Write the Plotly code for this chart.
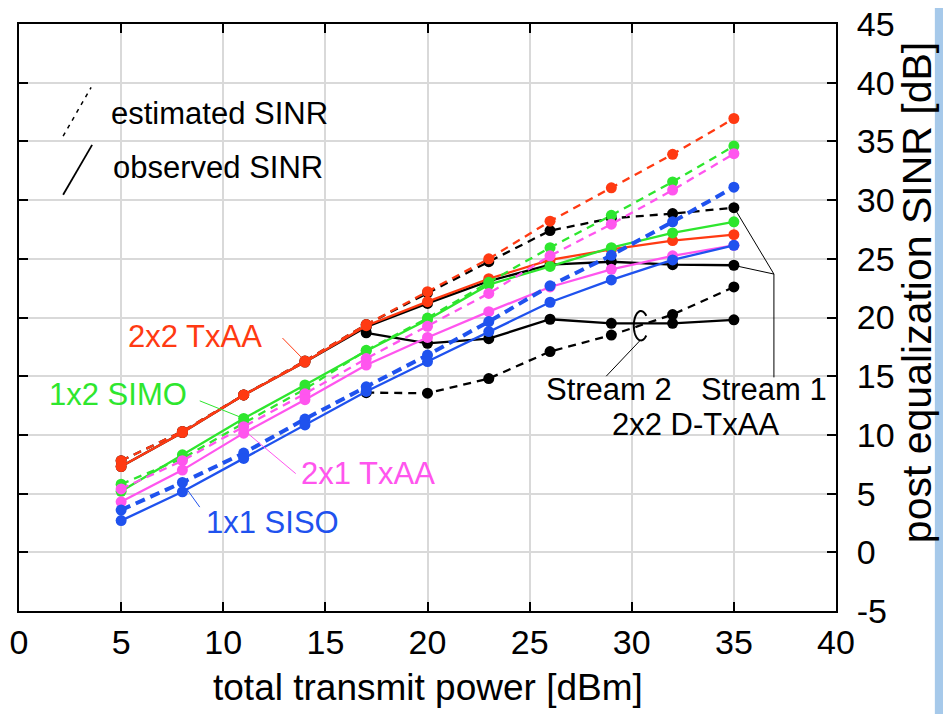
import numpy as np
import plotly.graph_objects as go

# ---------------- data ----------------
power = [5, 8, 11, 14, 17, 20, 23, 26, 29, 32, 35]
power_dtxaa = [17, 20, 23, 26, 29, 32, 35]

txaa22_est = [7.8, 10.3, 13.4, 16.3, 19.4, 22.2, 25.0, 28.2, 31.05, 33.9, 36.95]
txaa22_obs = [7.3, 10.2, 13.4, 16.2, 19.3, 21.35, 23.3, 24.9, 25.8, 26.55, 27.05]
simo12_est = [5.8, 8.0, 11.0, 13.9, 17.2, 19.95, 23.0, 25.95, 28.7, 31.55, 34.6]
simo12_obs = [5.2, 8.3, 11.4, 14.25, 17.15, 19.8, 22.8, 24.35, 25.95, 27.2, 28.15]
txaa21_est = [5.4, 7.8, 10.7, 13.5, 16.5, 19.25, 22.05, 25.25, 27.95, 30.85, 33.95]
txaa21_obs = [4.3, 7.0, 10.15, 13.0, 15.95, 18.3, 20.5, 22.6, 24.1, 25.25, 26.15]
siso11_est = [3.6, 5.95, 8.45, 11.35, 14.1, 16.8, 19.65, 22.7, 25.3, 28.15, 31.1]
siso11_obs = [2.7, 5.15, 8.0, 10.85, 13.7, 16.25, 18.8, 21.3, 23.2, 24.9, 26.15]

# 2x2 D-TxAA
s1_est = [7.8, 10.3, 13.4, 16.3, 19.4, 22.1, 24.75, 27.4, 28.45, 28.85, 29.35]
s1_obs = [7.3, 10.2, 13.4, 16.2, 19.2, 21.2, 23.1, 24.5, 24.75, 24.5, 24.45]
s2_est = [13.6, 13.55, 14.8, 17.1, 18.5, 20.25, 22.6]
s2_obs = [18.7, 17.8, 18.2, 19.85, 19.5, 19.5, 19.8]

x_ticks = [0, 5, 10, 15, 20, 25, 30, 35, 40]
y_ticks = [-5, 0, 5, 10, 15, 20, 25, 30, 35, 40, 45]

RED = "#ff3a12"
GREEN = "#2ee62e"
MAGENTA = "#ff55ee"
BLUE = "#1f52ee"
BLACK = "#000000"
FONT = "Liberation Sans"

fig = go.Figure()


def add(x, y, color, dashed, width=2.3, dash="8px,6px"):
    fig.add_trace(go.Scatter(
        x=x, y=y, mode="lines+markers",
        line=dict(color=color, width=width, dash=dash if dashed else "solid"),
        marker=dict(color=color, size=11),
        showlegend=False, hoverinfo="skip"))


# black D-TxAA first (under red)
add(power, s1_est, BLACK, True)
add(power, s1_obs, BLACK, False)
add(power_dtxaa, s2_est, BLACK, True)
add(power_dtxaa, s2_obs, BLACK, False)
add(power, txaa22_est, RED, True)
add(power, txaa22_obs, RED, False)
add(power, simo12_est, GREEN, True)
add(power, simo12_obs, GREEN, False)
add(power, txaa21_est, MAGENTA, True)
add(power, txaa21_obs, MAGENTA, False)
add(power, siso11_est, BLUE, True, width=4, dash="10px,6px")
add(power, siso11_obs, BLUE, False)

# ---------------- annotations ----------------
def txt(x, y, s, color, size=31):
    fig.add_annotation(x=x, y=y, xref="x", yref="y", text=s, showarrow=False,
                       xanchor="left", yanchor="middle",
                       font=dict(family=FONT, size=size, color=color))

txt(4.4, 37.4, "estimated SINR", BLACK)
txt(4.5, 32.8, "observed SINR", BLACK)
txt(5.25, 18.35, "2x2 TxAA", RED)
txt(1.35, 13.4, "1x2 SIMO", GREEN)
txt(13.7, 6.7, "2x1 TxAA", MAGENTA)
txt(9.05, 2.5, "1x1 SISO", BLUE)
txt(25.7, 13.9, "Stream 2", BLACK)
txt(33.3, 13.9, "Stream 1", BLACK)
txt(28.95, 10.85, "2x2 D-TxAA", BLACK)

shapes = []

def seg(x0, y0, x1, y1, color, width=1, dash="solid"):
    shapes.append(dict(type="line", xref="x", yref="y", x0=x0, y0=y0, x1=x1, y1=y1,
                       line=dict(color=color, width=width, dash=dash)))

# legend glyphs
seg(2.16, 35.45, 3.53, 39.6, BLACK, 1.5, "4px,5px")
seg(2.16, 30.45, 3.58, 34.7, BLACK, 1.8)
# leader lines
seg(12.9, 18.25, 14.0, 16.3, RED, 1)
seg(8.85, 12.9, 11.0, 11.4, GREEN, 1)
seg(11.15, 10.2, 13.55, 6.7, MAGENTA, 1)
seg(8.25, 5.3, 8.85, 3.85, BLUE, 1)
seg(35.1, 29.1, 36.96, 23.7, BLACK, 1)
seg(35.1, 24.4, 36.96, 23.7, BLACK, 1)
seg(36.96, 23.7, 36.96, 14.9, BLACK, 1)
seg(30.44, 18.1, 28.75, 15.0, BLACK, 1)

# "C" shaped ellipse around stream 2 crossing
cx, cy, rx, ry = 30.45, 19.3, 0.35, 1.25
ang = np.linspace(np.deg2rad(42), np.deg2rad(318), 48)
pts = [(cx + rx * np.cos(a), cy + ry * np.sin(a)) for a in ang]
path = "M " + " L ".join(f"{px:.4f},{py:.4f}" for px, py in pts)
shapes.append(dict(type="path", xref="x", yref="y", path=path,
                   line=dict(color=BLACK, width=2)))

# light blue strip at right edge (slide background)
shapes.append(dict(type="rect", xref="paper", yref="paper", x0=1.121, x1=1.25,
                   y0=-0.3, y1=1.2, line=dict(width=0), fillcolor="#a6c9ea", layer="below"))

fig.update_layout(shapes=shapes)

# axis titles as annotations
fig.add_annotation(x=0.5, y=-0.131, xref="paper", yref="paper", text="total transmit power [dBm]",
                   showarrow=False, xanchor="center", yanchor="middle",
                   font=dict(family=FONT, size=37, color=BLACK))
fig.add_annotation(x=1.099, y=0.543, xref="paper", yref="paper", text="post equalization SINR [dB]",
                   showarrow=False, xanchor="center", yanchor="middle", textangle=-90,
                   font=dict(family=FONT, size=41, color=BLACK))

axis_common = dict(showgrid=True, gridcolor="#d9d9d9", gridwidth=2, showline=True,
                   linecolor="black", linewidth=2, mirror="ticks", ticks="inside",
                   ticklen=9, tickwidth=1.5, tickcolor="black", zeroline=False,
                   automargin=False, ticklabeloverflow="allow",
                   tickfont=dict(family=FONT, size=34, color=BLACK))
fig.update_xaxes(range=[0, 40], tickvals=x_ticks, ticktext=[str(v) for v in x_ticks],
                 ticklabelstandoff=0, **axis_common)
fig.update_yaxes(range=[-5, 45], tickvals=y_ticks, ticktext=[str(v) for v in y_ticks],
                 side="right", ticklabelstandoff=12, **axis_common)

fig.update_layout(width=951, height=714, margin=dict(l=11, r=123, t=16, b=111),
                  paper_bgcolor="white", plot_bgcolor="white", showlegend=False,
                  font=dict(family=FONT))

fig.write_html("out.html")
